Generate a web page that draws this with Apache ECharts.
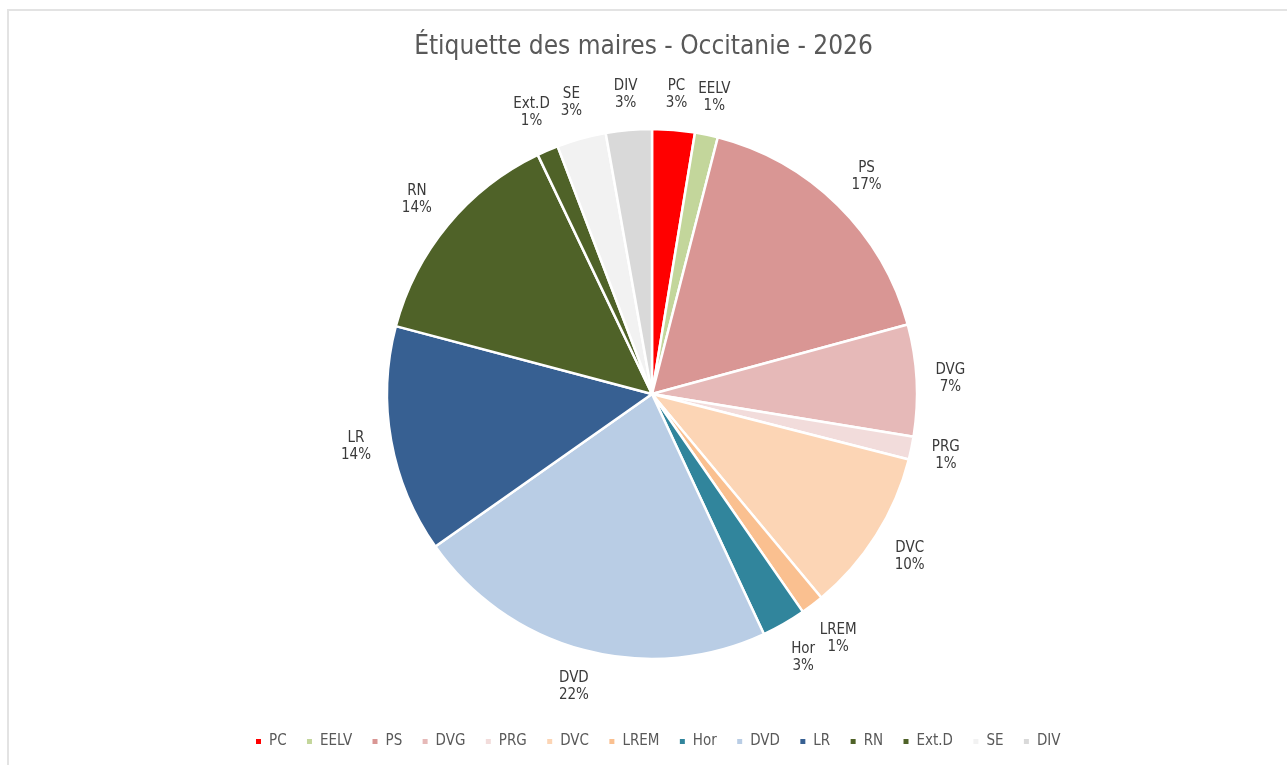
<!DOCTYPE html>
<html><head><meta charset="utf-8">
<script src="https://cdn.jsdelivr.net/npm/echarts@6/dist/echarts.min.js"></script>
<style>html,body{margin:0;padding:0;background:#fff}#c{width:1287px;height:765px}</style>
</head><body><div id="c"></div>
<script>
const titleText = 'Étiquette des maires - Occitanie - 2026';
const categories = ['PC','EELV','PS','DVG','PRG','DVC','LREM','Hor','DVD','LR','RN','Ext.D','SE','DIV'];
const values = [2.6,1.4,16.8,6.8,1.4,10.0,1.4,2.7,22.2,13.9,13.8,1.3,3.0,2.8];
const colors = ['#FF0000','#C3D69B','#D99694','#E6B9B8','#F2DCDB','#FCD5B5','#FAC090','#31859C','#B9CDE5','#376092','#4F6228','#4F6228','#F2F2F2','#D9D9D9'];

const FONT = "'Liberation Sans Narrow','DejaVu Sans Condensed',Lato,sans-serif";
const chart = echarts.init(document.getElementById('c'), null, {renderer:'canvas'});
const GAP = 18;
chart.setOption({
  animation:false,
  backgroundColor:'#fff',
  color: colors,
  graphic:[{type:'rect', shape:{x:8,y:10,width:1400,height:900}, style:{fill:'none', stroke:'#e3e3e3', lineWidth:2}, silent:true}],
  title:{text:titleText, left:'center', top:29, textStyle:{fontFamily:FONT, fontSize:26, fontWeight:'normal', color:'#595959'}},
  legend:{bottom:11, left:249, icon:'rect', itemWidth:7, itemHeight:7, itemGap:18.4,
    textStyle:{fontFamily:FONT, fontSize:15, color:'#595959', padding:[0,0,0,2]}, data:categories},
  series:[{
    type:'pie', center:[652,394], radius:265, startAngle:90, clockwise:true,
    avoidLabelOverlap:false,
    itemStyle:{borderColor:'#fff', borderWidth:2.5},
    label:{show:true, position:'outside', fontFamily:FONT, fontSize:15, lineHeight:17, color:'#3a3a3a',
      formatter:p=>p.name+'\n'+Math.round(p.percent)+'%'},
    labelLine:{show:false},
    labelLayout:function(p){
      const data = chart.getModel().getSeriesByIndex(0).getData();
      const lay = data.getItemLayout(p.dataIndex);
      const mid = (lay.startAngle + lay.endAngle)/2;
      const ux = Math.cos(mid), uy = Math.sin(mid);
      const ex = lay.cx + lay.r*ux, ey = lay.cy + lay.r*uy;
      const w = p.labelRect.width, h = p.labelRect.height;
      const d = GAP + Math.abs(ux)*w/2 + Math.abs(uy)*h/2;
      return {x: ex+ux*d, y: ey+uy*d, align:'center', verticalAlign:'middle'};
    },
    emphasis:{disabled:true},
    data: categories.map((n,i)=>({name:n, value:values[i]}))
  }]
});
</script></body></html>
